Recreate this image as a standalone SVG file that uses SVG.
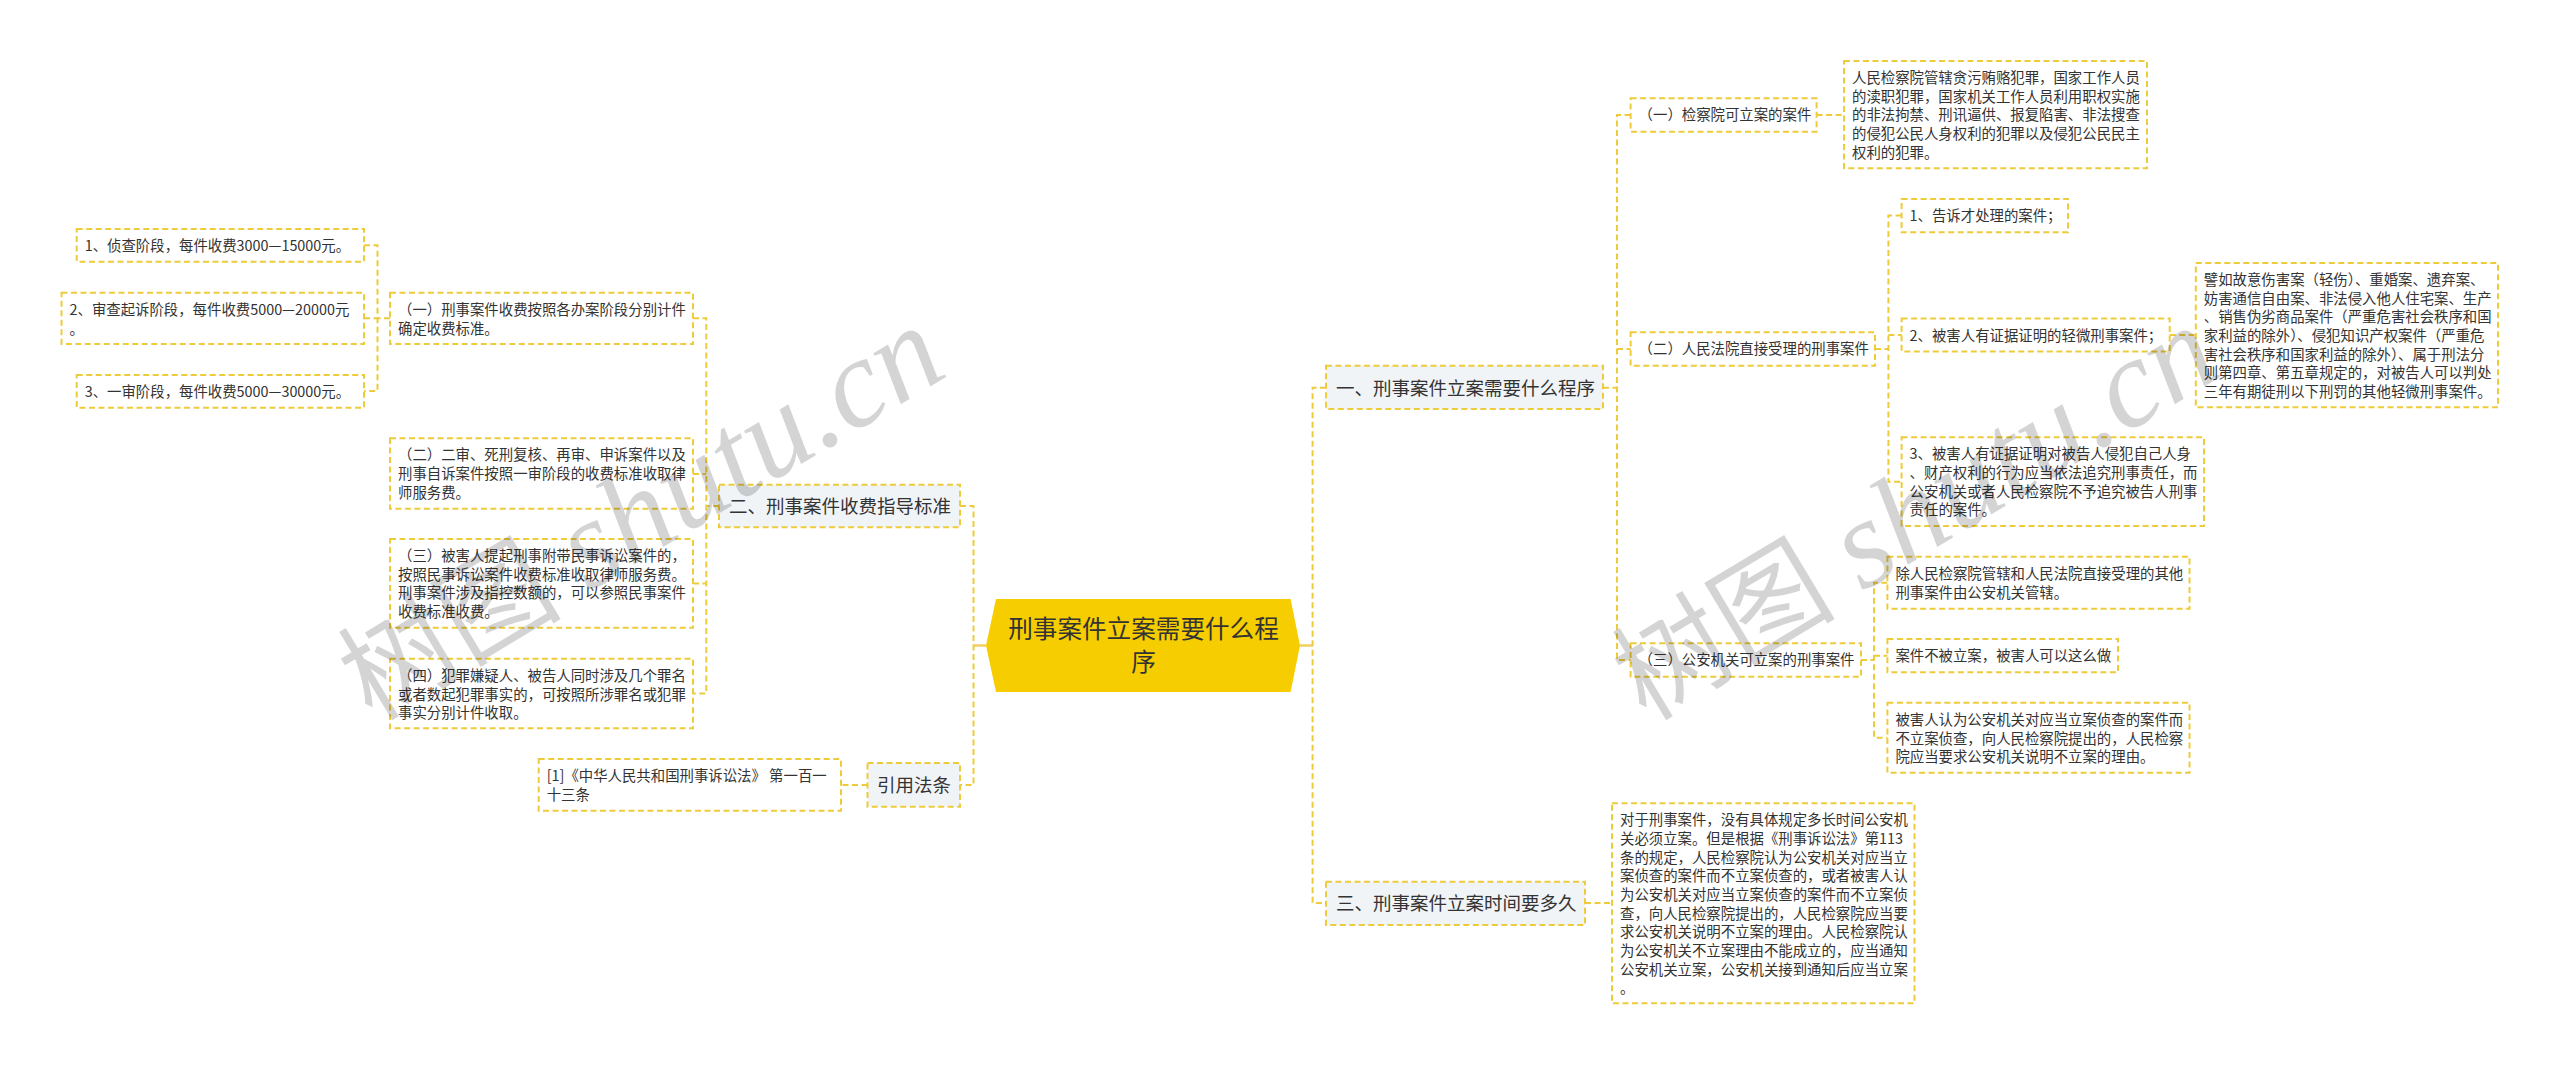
<svg xmlns="http://www.w3.org/2000/svg" width="2560" height="1065" viewBox="0 0 2560 1065">
<style>
text{font-family:"Noto Sans CJK SC","Noto Sans",sans-serif;fill:#333}
.b{fill:none;stroke:#eecb3a;stroke-width:2;stroke-dasharray:6 3.5}
.f{fill:#f1f4f7;stroke:#eecb3a;stroke-width:2;stroke-dasharray:6 3.5}
.c{fill:none;stroke:#eecb3a;stroke-width:2;stroke-dasharray:6 3.5}
.s{fill:none;stroke:#efd060;stroke-width:2.5}
.t{font-size:14.4px}
.h{font-size:18.5px}
.r{font-size:24.6px;text-anchor:middle}
.w{font-size:112px;fill:#000;fill-opacity:.17;font-family:"Liberation Serif","Noto Sans CJK SC",serif}
.l{font-size:126px;font-style:italic}
</style>
<rect width="2560" height="1065" fill="#fff"/>
<g id="connectors">
<path class="s" d="M973.5 645.5H986M1300 645.5H1312.6"/>
<path class="c" d="M960 506H973.5V785H960"/>
<path class="c" d="M1326 387.7H1312.6V903H1326"/>
<path class="c" d="M719 506H706.3"/>
<path class="c" d="M693 318.3H706.3V693.5H693M693 474H706.3M693 583.5H706.3"/>
<path class="c" d="M390 318.3H377.5"/>
<path class="c" d="M364 245.3H377.5V391H364M364 318.3H377.5"/>
<path class="c" d="M867.5 785H841"/>
<path class="c" d="M1603 387.7H1617"/>
<path class="c" d="M1630.6 115H1617V660H1630.6M1617 349H1630.6"/>
<path class="c" d="M1816.6 115H1844"/>
<path class="c" d="M1875 349H1888.4"/>
<path class="c" d="M1901.6 215.6H1888.4V481.7H1901.6M1888.4 335H1901.6"/>
<path class="c" d="M2169.7 335H2195.8"/>
<path class="c" d="M1861 660H1874"/>
<path class="c" d="M1887.4 582.7H1874V737.7H1887.4M1874 655.7H1887.4"/>
<path class="c" d="M1585 903H1612"/>
</g>
<g id="root">
<polygon points="996,599 1290.6,599 1300,645.5 1290.6,692 996,692 986,645.5" fill="#f6cd00"/>
<text class="r" x="1143.5" y="638">刑事案件立案需要什么程</text>
<text class="r" x="1143.5" y="671">序</text>
</g>
<g id="l-2">
<rect class="f" x="719" y="484.7" width="241" height="42.6"/>
<text class="h" x="729" y="513">二、刑事案件收费指导标准</text>
</g>
<g id="l-yinyong">
<rect class="f" x="867.5" y="763" width="92.5" height="43.7"/>
<text class="h" x="877" y="792">引用法条</text>
</g>
<g id="r-1">
<rect class="f" x="1326" y="365.7" width="277" height="43.3"/>
<text class="h" x="1336" y="394.7">一、刑事案件立案需要什么程序</text>
</g>
<g id="r-3">
<rect class="f" x="1326" y="881.7" width="259" height="43.3"/>
<text class="h" x="1336" y="910">三、刑事案件立案时间要多久</text>
</g>
<g id="fee-1">
<rect class="b" x="76.7" y="229" width="287.3" height="32.7"/>
<text class="t" x="84.7" y="251.1">1、侦查阶段，每件收费3000—15000元。</text>
</g>
<g id="fee-2">
<rect class="b" x="61.5" y="292.7" width="302.5" height="51.3"/>
<text class="t"><tspan x="69.5" y="314.8">2、审查起诉阶段，每件收费5000—20000元</tspan><tspan x="69.5" y="333.5">。</tspan></text>
</g>
<g id="fee-3">
<rect class="b" x="76.7" y="375" width="287.3" height="32.7"/>
<text class="t" x="84.7" y="397.1">3、一审阶段，每件收费5000—30000元。</text>
</g>
<g id="std-1">
<rect class="b" x="390" y="292.7" width="303" height="51.3"/>
<text class="t"><tspan x="398" y="314.8">（一）刑事案件收费按照各办案阶段分别计件</tspan><tspan x="398" y="333.5">确定收费标准。</tspan></text>
</g>
<g id="std-2">
<rect class="b" x="390" y="438.3" width="303" height="70.4"/>
<text class="t"><tspan x="398" y="460.4">（二）二审、死刑复核、再审、申诉案件以及</tspan><tspan x="398" y="479.1">刑事自诉案件按照一审阶段的收费标准收取律</tspan><tspan x="398" y="497.7">师服务费。</tspan></text>
</g>
<g id="std-3">
<rect class="b" x="390" y="539" width="303" height="88.7"/>
<text class="t"><tspan x="398" y="561.1">（三）被害人提起刑事附带民事诉讼案件的，</tspan><tspan x="398" y="579.8">按照民事诉讼案件收费标准收取律师服务费。</tspan><tspan x="398" y="598.4">刑事案件涉及指控数额的，可以参照民事案件</tspan><tspan x="398" y="617.1">收费标准收费。</tspan></text>
</g>
<g id="std-4">
<rect class="b" x="390" y="658.7" width="303" height="69.6"/>
<text class="t"><tspan x="398" y="680.8">（四）犯罪嫌疑人、被告人同时涉及几个罪名</tspan><tspan x="398" y="699.5">或者数起犯罪事实的，可按照所涉罪名或犯罪</tspan><tspan x="398" y="718.1">事实分别计件收取。</tspan></text>
</g>
<g id="law">
<rect class="b" x="538.7" y="759" width="302.3" height="51.7"/>
<text class="t"><tspan x="546.7" y="781.1">[1]《中华人民共和国刑事诉讼法》 第一百一</tspan><tspan x="546.7" y="799.8">十三条</tspan></text>
</g>
<g id="case-1">
<rect class="b" x="1630.6" y="98.3" width="186" height="33.4"/>
<text class="t" x="1638.6" y="120.4">（一）检察院可立案的案件</text>
</g>
<g id="case-1a">
<rect class="b" x="1844" y="61" width="303" height="107.3"/>
<text class="t"><tspan x="1852" y="83.1">人民检察院管辖贪污贿赂犯罪，国家工作人员</tspan><tspan x="1852" y="101.8">的渎职犯罪，国家机关工作人员利用职权实施</tspan><tspan x="1852" y="120.4">的非法拘禁、刑讯逼供、报复陷害、非法搜查</tspan><tspan x="1852" y="139.1">的侵犯公民人身权利的犯罪以及侵犯公民民主</tspan><tspan x="1852" y="157.8">权利的犯罪。</tspan></text>
</g>
<g id="case-2">
<rect class="b" x="1630.6" y="332.3" width="244.4" height="33.4"/>
<text class="t" x="1638.6" y="354.4">（二）人民法院直接受理的刑事案件</text>
</g>
<g id="case-2a">
<rect class="b" x="1901.6" y="199" width="166.4" height="33.3"/>
<text class="t" x="1909.6" y="221.1">1、告诉才处理的案件；</text>
</g>
<g id="case-2b">
<rect class="b" x="1901.6" y="318.5" width="268.1" height="33"/>
<text class="t" x="1909.6" y="340.6">2、被害人有证据证明的轻微刑事案件；</text>
</g>
<g id="case-2b1">
<rect class="b" x="2195.8" y="263" width="302.2" height="144.3"/>
<text class="t"><tspan x="2203.8" y="285.1">譬如故意伤害案（轻伤）、重婚案、遗弃案、</tspan><tspan x="2203.8" y="303.8">妨害通信自由案、非法侵入他人住宅案、生产</tspan><tspan x="2203.8" y="322.4">、销售伪劣商品案件（严重危害社会秩序和国</tspan><tspan x="2203.8" y="341.1">家利益的除外）、侵犯知识产权案件（严重危</tspan><tspan x="2203.8" y="359.8">害社会秩序和国家利益的除外）、属于刑法分</tspan><tspan x="2203.8" y="378.4">则第四章、第五章规定的，对被告人可以判处</tspan><tspan x="2203.8" y="397.1">三年有期徒刑以下刑罚的其他轻微刑事案件。</tspan></text>
</g>
<g id="case-2c">
<rect class="b" x="1901.6" y="437.3" width="302.4" height="88.7"/>
<text class="t"><tspan x="1909.6" y="459.4">3、被害人有证据证明对被告人侵犯自己人身</tspan><tspan x="1909.6" y="478.1">、财产权利的行为应当依法追究刑事责任，而</tspan><tspan x="1909.6" y="496.7">公安机关或者人民检察院不予追究被告人刑事</tspan><tspan x="1909.6" y="515.4">责任的案件。</tspan></text>
</g>
<g id="case-3">
<rect class="b" x="1630.6" y="643.3" width="230.4" height="33.4"/>
<text class="t" x="1638.6" y="665.4">（三）公安机关可立案的刑事案件</text>
</g>
<g id="case-3a">
<rect class="b" x="1887.4" y="556.7" width="302.1" height="52"/>
<text class="t"><tspan x="1895.4" y="578.8">除人民检察院管辖和人民法院直接受理的其他</tspan><tspan x="1895.4" y="597.5">刑事案件由公安机关管辖。</tspan></text>
</g>
<g id="case-3b">
<rect class="b" x="1887.4" y="639" width="230.6" height="33.3"/>
<text class="t" x="1895.4" y="661.1">案件不被立案，被害人可以这么做</text>
</g>
<g id="case-3c">
<rect class="b" x="1887.4" y="702.7" width="302.1" height="70"/>
<text class="t"><tspan x="1895.4" y="724.8">被害人认为公安机关对应当立案侦查的案件而</tspan><tspan x="1895.4" y="743.5">不立案侦查，向人民检察院提出的，人民检察</tspan><tspan x="1895.4" y="762.1">院应当要求公安机关说明不立案的理由。</tspan></text>
</g>
<g id="time">
<rect class="b" x="1612" y="803.3" width="302.5" height="200"/>
<text class="t"><tspan x="1620" y="825.4">对于刑事案件，没有具体规定多长时间公安机</tspan><tspan x="1620" y="844.1">关必须立案。但是根据《刑事诉讼法》第113</tspan><tspan x="1620" y="862.7">条的规定，人民检察院认为公安机关对应当立</tspan><tspan x="1620" y="881.4">案侦查的案件而不立案侦查的，或者被害人认</tspan><tspan x="1620" y="900.1">为公安机关对应当立案侦查的案件而不立案侦</tspan><tspan x="1620" y="918.7">查，向人民检察院提出的，人民检察院应当要</tspan><tspan x="1620" y="937.4">求公安机关说明不立案的理由。人民检察院认</tspan><tspan x="1620" y="956.1">为公安机关不立案理由不能成立的，应当通知</tspan><tspan x="1620" y="974.7">公安机关立案，公安机关接到通知后应当立案</tspan><tspan x="1620" y="993.4">。</tspan></text>
</g>
<g id="watermark">
<text class="w" transform="translate(372 722) rotate(-31)">树图 <tspan class="l">shutu.cn</tspan></text>
<text class="w" transform="translate(1646 722) rotate(-31)">树图 <tspan class="l">shutu.cn</tspan></text>
</g>
</svg>
